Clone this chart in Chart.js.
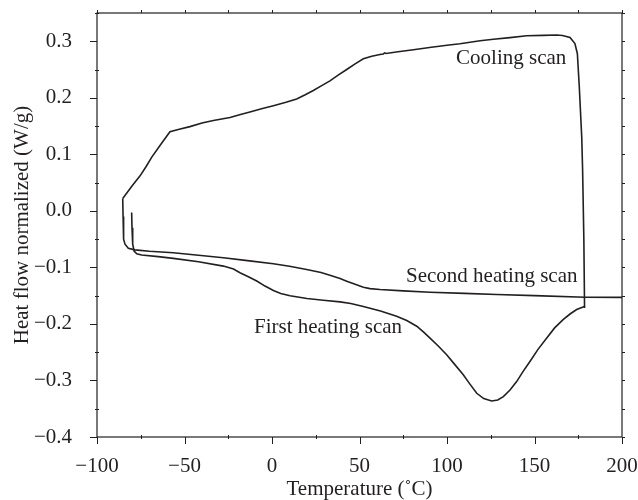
<!DOCTYPE html>
<html>
<head>
<meta charset="utf-8">
<script src="https://cdn.jsdelivr.net/npm/chart.js@4.4.1/dist/chart.umd.min.js"></script>
<style>
  html, body { margin: 0; padding: 0; background: #fff; }
  #wrap { width: 638px; height: 500px; }
</style>
</head>
<body>
<div id="wrap"><canvas id="dsc" width="638" height="500"></canvas></div>
<script>
// DSC traces: [temperature (°C), heat flow (W/g)]
const firstHeating = [
    [-80.2, -0.003], [-80.0, -0.03], [-79.6, -0.059], [-78.8, -0.071], [-77.3, -0.0758],
    [-74.5, -0.078], [-65, -0.081], [-56.4, -0.084], [-42, -0.09], [-27.8, -0.0977],
    [-22, -0.103], [-18.3, -0.1095], [-13.5, -0.1165], [-8.7, -0.124], [-4, -0.133],
    [0.8, -0.141], [5, -0.146], [10.3, -0.15], [20, -0.155], [29.3, -0.158],
    [38.9, -0.161], [45, -0.164], [52.2, -0.169], [62, -0.177], [71.2, -0.1865],
    [77, -0.194], [82.7, -0.204], [86.5, -0.214], [90.3, -0.225], [95, -0.239],
    [99.8, -0.2546], [104.5, -0.272], [109.3, -0.29], [113, -0.306], [117, -0.3227],
    [121, -0.332], [125.5, -0.3363], [129, -0.3345], [132.2, -0.3286], [136, -0.317],
    [139.8, -0.302], [143.5, -0.284], [147.4, -0.2664], [152, -0.245], [157, -0.225],
    [161.5, -0.207], [166.5, -0.192], [170.5, -0.182], [174.1, -0.1746], [178.9, -0.1687]
]

const cooling = [
    [178.6, -0.172], [178.2, -0.05], [177.5, 0.071], [177.0, 0.13], [175.6, 0.219],
    [174.5, 0.278], [173.1, 0.296], [170.3, 0.3067], [166, 0.3102], [162.7, 0.311],
    [155, 0.3105], [145.5, 0.3097], [136, 0.3065], [126.5, 0.3037], [118.9, 0.301],
    [107.4, 0.2957], [100, 0.293], [90, 0.289], [80.8, 0.285], [72, 0.2815],
    [65.2, 0.2785], [64.4, 0.2795], [63.6, 0.2775], [61.7, 0.2765], [57, 0.2735],
    [52.2, 0.269], [47.5, 0.26], [42.7, 0.25], [38, 0.2405], [33.1, 0.23],
    [28.4, 0.2215], [23.6, 0.213], [19, 0.2055], [14.1, 0.198], [8, 0.192],
    [0.8, 0.186], [-6, 0.1805], [-12.6, 0.175], [-18, 0.1705], [-24, 0.165],
    [-33.5, 0.16], [-40, 0.1555], [-46.9, 0.149], [-53, 0.1445], [-58.3, 0.14],
    [-63.5, 0.118], [-68.7, 0.095], [-72, 0.078], [-75.4, 0.062], [-80, 0.044],
    [-85.3, 0.022]
]

const secondHeating = [
    [-85.3, 0.022], [-85.1, -0.01], [-85.0, -0.0355], [-84.6, -0.05], [-84.0, -0.059],
    [-82.1, -0.066], [-78.3, -0.069], [-70, -0.0715], [-56.4, -0.074], [-42, -0.0785],
    [-27.8, -0.083], [-14, -0.088], [0.8, -0.0936], [10, -0.098], [19.8, -0.1037],
    [28, -0.109], [33.1, -0.1137], [38.9, -0.1196], [42.7, -0.1243], [47.5, -0.13],
    [52.2, -0.135], [56, -0.1375], [61.7, -0.139], [75, -0.1415], [90.3, -0.1439],
    [110, -0.146], [128.4, -0.148], [150, -0.15], [178.9, -0.1528], [200, -0.153]
]

// text labels placed in data coordinates (left edge, baseline)
const scanLabels = [
    { text: 'Cooling scan', x: 105.2, y: 0.259 },
    { text: 'Second heating scan', x: 76.6, y: -0.1252 },
    { text: 'First heating scan', x: -10.3, y: -0.2158 }
]

const xRange = { min: -100, max: 200, step: 25 }
const yRange = { min: -0.4, max: 0.35, step: 0.05 }

const ink = '#231f20'
const serif = '"Liberation Serif", "Times New Roman", serif'
const fontSize = 21
const minus = s => s.replace('-', '\u2212')

const toPoints = arr => arr.map(([x, y]) => ({ x, y }))

const line = data => ({
    data: toPoints(data),
    showLine: true,
    borderColor: ink,
    borderWidth: 1.6,
    pointRadius: 0,
    tension: 0,
    fill: false
})

// box around the plot with ticks on all four sides
const frame = {
    id: 'frame',
    afterDatasetsDraw(chart) {
        const { ctx, chartArea: a, scales: { x, y } } = chart
        ctx.save()
        ctx.strokeStyle = ink
        ctx.lineWidth = 1.2
        ctx.strokeRect(a.left, a.top, a.right - a.left, a.bottom - a.top)
        ctx.lineWidth = 1
        ctx.beginPath()
        for (let v = xRange.min; v <= xRange.max + 1e-9; v += xRange.step) {
            const px = Math.round(x.getPixelForValue(v)) + 0.5
            const major = Math.abs(v % 50) < 1e-9
            ctx.moveTo(px, a.bottom - (major ? 0 : 2))
            ctx.lineTo(px, a.bottom + (major ? 7 : 2))
            ctx.moveTo(px, a.top)
            ctx.lineTo(px, a.top - 3)
        }
        for (let i = 0; ; i++) {
            const v = yRange.min + i * yRange.step
            if (v > yRange.max + 1e-9) break
            const py = Math.round(y.getPixelForValue(v)) + 0.5
            const major = i % 2 === 0
            ctx.moveTo(a.left + (major ? 0 : 2), py)
            ctx.lineTo(a.left - (major ? 7 : 2), py)
            ctx.moveTo(a.right, py)
            ctx.lineTo(a.right + 3, py)
        }
        ctx.stroke()

        ctx.fillStyle = ink
        ctx.font = fontSize + 'px ' + serif
        ctx.textAlign = 'left'
        ctx.textBaseline = 'alphabetic'
        scanLabels.forEach(l => {
            ctx.fillText(l.text, x.getPixelForValue(l.x), y.getPixelForValue(l.y))
        })
        ctx.restore()
    }
}

Chart.defaults.font.family = serif
Chart.defaults.color = ink

const chart = new Chart('dsc', {
    type: 'scatter',
    data: {
        datasets: [line(firstHeating), line(cooling), line(secondHeating)]
    },
    options: {
        responsive: false,
        animation: false,
        devicePixelRatio: 1,
        layout: { padding: { left: 0, right: 16, top: 13, bottom: 0 } },
        plugins: { legend: { display: false }, tooltip: { enabled: false } },
        scales: {
            x: {
                type: 'linear',
                min: xRange.min,
                max: xRange.max,
                grid: { display: false },
                border: { display: false },
                ticks: {
                    stepSize: xRange.step,
                    padding: 9,
                    maxRotation: 0,
                    autoSkip: false,
                    font: { size: fontSize },
                    callback: v => (Math.abs(v % 50) < 1e-9 ? minus(String(v)) : '')
                },
                title: {
                    display: true,
                    text: 'Temperature (\u02DAC)',
                    font: { size: fontSize, lineHeight: 1 },
                    padding: 0
                },
                afterFit: s => {
                    s.height = 63
                    s.paddingLeft = 0
                    s.paddingRight = 0
                }
            },
            y: {
                type: 'linear',
                min: yRange.min,
                max: yRange.max,
                grid: { display: false },
                border: { display: false },
                ticks: {
                    stepSize: yRange.step,
                    padding: 17,
                    autoSkip: false,
                    font: { size: fontSize },
                    callback: v => {
                        const t = Math.round(v * 100)
                        return t % 10 === 0 ? minus((t / 100).toFixed(1)) : ''
                    }
                },
                title: {
                    display: true,
                    text: 'Heat flow normalized (W/g)',
                    font: { size: fontSize, lineHeight: 1.2 },
                    padding: { top: 10, bottom: 0 }
                },
                afterFit: s => {
                    s.width = 97
                    s.paddingTop = 0
                    s.paddingBottom = 0
                }
            }
        }
    },
    plugins: [frame]
})
</script>
</body>
</html>
